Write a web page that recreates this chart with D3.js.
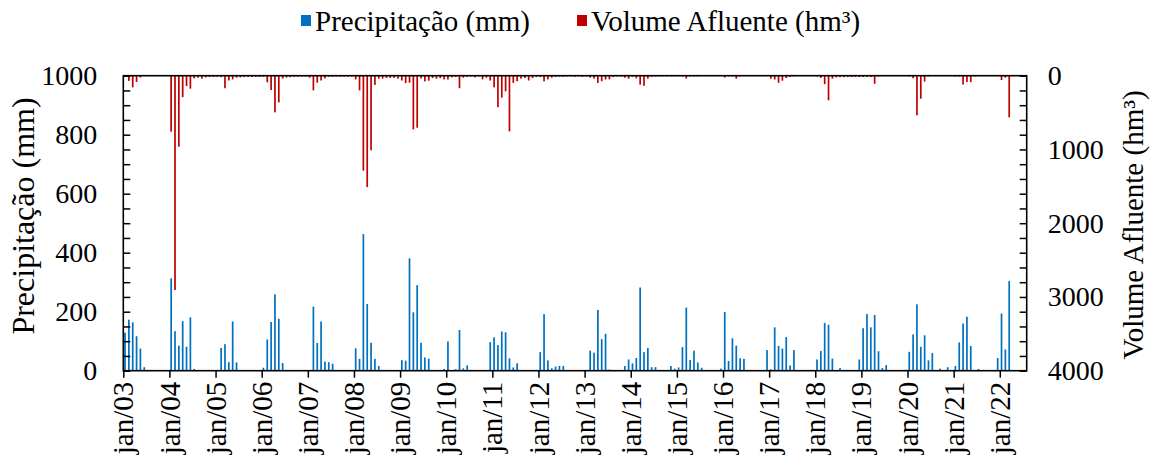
<!DOCTYPE html>
<html>
<head>
<meta charset="utf-8">
<script src="https://cdn.jsdelivr.net/npm/d3@7"></script>
<style>
  body { margin: 0; background: #fff; }
  svg { display: block; }
  text { font-family: "Liberation Serif", "Times New Roman", serif; fill: #000; }
</style>
</head>
<body>
<svg id="chart" width="1156" height="462"></svg>
<script>
// Monthly series, January 2003 through March 2022 (one row per year)
const yearLabels = ["jan/03","jan/04","jan/05","jan/06","jan/07","jan/08","jan/09","jan/10","jan/11","jan/12",
                    "jan/13","jan/14","jan/15","jan/16","jan/17","jan/18","jan/19","jan/20","jan/21","jan/22"];

// Monthly rainfall (mm)
const precipitation = [
  129,173,164,117,75,12,0,0,0,0,0,0,        // 2003
  313,134,85,168,81,181,6,0,0,0,0,0,        // 2004
  0,77,90,29,167,28,0,0,0,0,0,0,            // 2005
  10,106,165,259,176,26,0,0,0,0,0,0,        // 2006
  0,217,94,167,31,29,24,0,0,0,0,0,          // 2007
  76,40,463,226,95,40,16,0,0,0,0,0,         // 2008
  36,34,381,198,290,95,45,41,0,0,0,6,       // 2009
  99,0,5,138,8,18,0,0,0,0,0,97,             // 2010
  113,87,133,130,42,11,25,0,0,0,0,0,        // 2011
  63,192,35,8,14,16,16,0,0,0,0,0,           // 2012
  0,68,61,206,107,125,4,0,0,0,16,38,        // 2013
  25,43,282,63,77,12,12,0,0,0,16,7,         // 2014
  11,80,214,36,68,28,10,0,0,0,0,7,          // 2015
  199,33,110,85,42,40,0,0,0,0,0,70,         // 2016
  5,147,84,75,114,18,70,0,0,0,0,0,          // 2017
  38,67,162,156,41,0,9,0,0,0,0,38,          // 2018
  144,192,147,189,66,9,19,0,0,0,0,3,        // 2019
  64,123,225,81,120,35,60,0,7,0,12,0,       // 2020
  16,96,160,183,84,0,6,0,0,0,0,43,          // 2021
  194,72,304                                // 2022
];

// Monthly inflow volume (hm³)
const inflow = [
  0,70,158,84,25,5,3,3,3,3,3,3,             // 2003
  759,2906,963,290,140,176,36,27,40,23,18,18, // 2004
  18,20,170,65,50,27,23,18,15,18,15,18,     // 2005
  15,90,195,497,362,38,25,20,15,15,12,12,   // 2006
  27,199,95,65,36,15,15,12,15,12,15,12,     // 2007
  50,199,1288,1510,1012,125,40,40,30,30,30,40, // 2008
  65,100,95,728,705,38,77,68,32,40,32,50,   // 2009
  52,23,18,170,27,18,10,23,10,50,27,65,     // 2010
  158,427,298,212,755,97,75,40,32,65,32,18, // 2011
  18,77,50,27,18,12,15,10,10,15,10,15,      // 2012
  10,27,40,99,75,52,50,18,10,10,27,40,      // 2013
  15,36,122,138,40,15,10,8,8,8,8,8,         // 2014
  8,10,38,10,8,8,5,5,5,5,5,5,               // 2015
  25,10,10,40,10,5,5,5,5,5,5,5,             // 2016
  40,52,95,68,32,15,10,5,5,5,5,5,           // 2017
  10,30,115,334,40,22,20,20,18,18,18,18,    // 2018
  18,18,18,110,10,5,5,5,5,5,5,5,            // 2019
  10,34,538,312,79,10,5,5,5,5,5,5,          // 2020
  10,10,120,85,88,10,5,5,5,5,5,5,           // 2021
  59,27,565                                 // 2022
];

const precipTicks = d3.range(0, 1001, 50);
const inflowTicks = d3.range(0, 4001, 200);
const seriesNames = ["Precipitação (mm)", "Volume Afluente (hm³)"];
const seriesColors = ["#0070C0", "#C00000"];

// ---- layout ----
const svg = d3.select("#chart");
const plot = { left: 123.3, right: 1026.7, top: 75.7, bottom: 370.7 };
const monthSpan = 235;       // months covered by the horizontal axis
const barOffset = 0.45;      // bar position within its month
const barWidth = 1.7;

const x = d3.scaleLinear().domain([0, monthSpan]).range([plot.left, plot.right]);
const yP = d3.scaleLinear().domain([0, 1000]).range([plot.bottom, plot.top]);
const yV = d3.scaleLinear().domain([0, 4000]).range([plot.top, plot.bottom]);

// ---- bars ----
svg.append("g").selectAll("rect")
  .data(precipitation)
  .join("rect")
  .attr("x", (d, i) => x(i + barOffset) - barWidth / 2)
  .attr("y", d => yP(d))
  .attr("width", barWidth)
  .attr("height", d => yP(0) - yP(d))
  .attr("fill", seriesColors[0]);

svg.append("g").selectAll("rect")
  .data(inflow)
  .join("rect")
  .attr("x", (d, i) => x(i + barOffset) - barWidth / 2)
  .attr("y", yV(0))
  .attr("width", barWidth)
  .attr("height", d => yV(d) - yV(0))
  .attr("fill", seriesColors[1]);

// ---- axes ----
const tickFont = 28;
const monthLabelFont = 29;

const leftAxis = svg.append("g")
  .attr("transform", `translate(${plot.left},0)`)
  .call(d3.axisLeft(yP).tickValues(precipTicks)
    .tickSizeInner(-7).tickSizeOuter(0).tickPadding(26)
    .tickFormat(d => d % 200 === 0 ? d : ""));

const rightAxis = svg.append("g")
  .attr("transform", `translate(${plot.right},0)`)
  .call(d3.axisRight(yV).tickValues(inflowTicks)
    .tickSizeInner(-7).tickSizeOuter(0).tickPadding(21)
    .tickFormat(d => d % 1000 === 0 ? d : ""));

const bottomAxis = svg.append("g")
  .attr("transform", `translate(0,${plot.bottom})`)
  .call(d3.axisBottom(x).tickValues(d3.range(0, yearLabels.length * 12, 12))
    .tickSizeInner(7).tickSizeOuter(0)
    .tickFormat((d, i) => yearLabels[i]));

[leftAxis, rightAxis, bottomAxis].forEach(g => {
  g.select(".domain").remove();
  g.selectAll("line").attr("stroke", "#000").attr("stroke-width", 1.5);
  g.selectAll("text").attr("font-size", tickFont)
    .attr("font-family", "Liberation Serif, Times New Roman, serif").attr("fill", "#000");
});

bottomAxis.selectAll("text")
  .attr("font-size", monthLabelFont)
  .attr("x", -11).attr("y", 0).attr("dy", "0.33em")
  .attr("transform", "rotate(-90)")
  .style("text-anchor", "end");

// plot frame
svg.append("rect")
  .attr("x", plot.left).attr("y", plot.top)
  .attr("width", plot.right - plot.left).attr("height", plot.bottom - plot.top)
  .attr("fill", "none").attr("stroke", "#000").attr("stroke-width", 1.6);

// ---- axis titles ----
svg.append("text")
  .attr("transform", `translate(34,216) rotate(-90)`)
  .attr("text-anchor", "middle").attr("font-size", 32)
  .text(seriesNames[0]);

svg.append("text")
  .attr("transform", `translate(1143,225) rotate(-90)`)
  .attr("text-anchor", "middle").attr("font-size", 29)
  .text(seriesNames[1]);

// ---- legend ----
const legendX = [301, 577];
const legend = svg.append("g");
seriesNames.forEach((name, i) => {
  legend.append("rect")
    .attr("x", legendX[i]).attr("y", 15).attr("width", 10).attr("height", 11)
    .attr("fill", seriesColors[i]);
  legend.append("text")
    .attr("x", legendX[i] + 14).attr("y", 31)
    .attr("font-size", 29)
    .text(name);
});
</script>
</body>
</html>
